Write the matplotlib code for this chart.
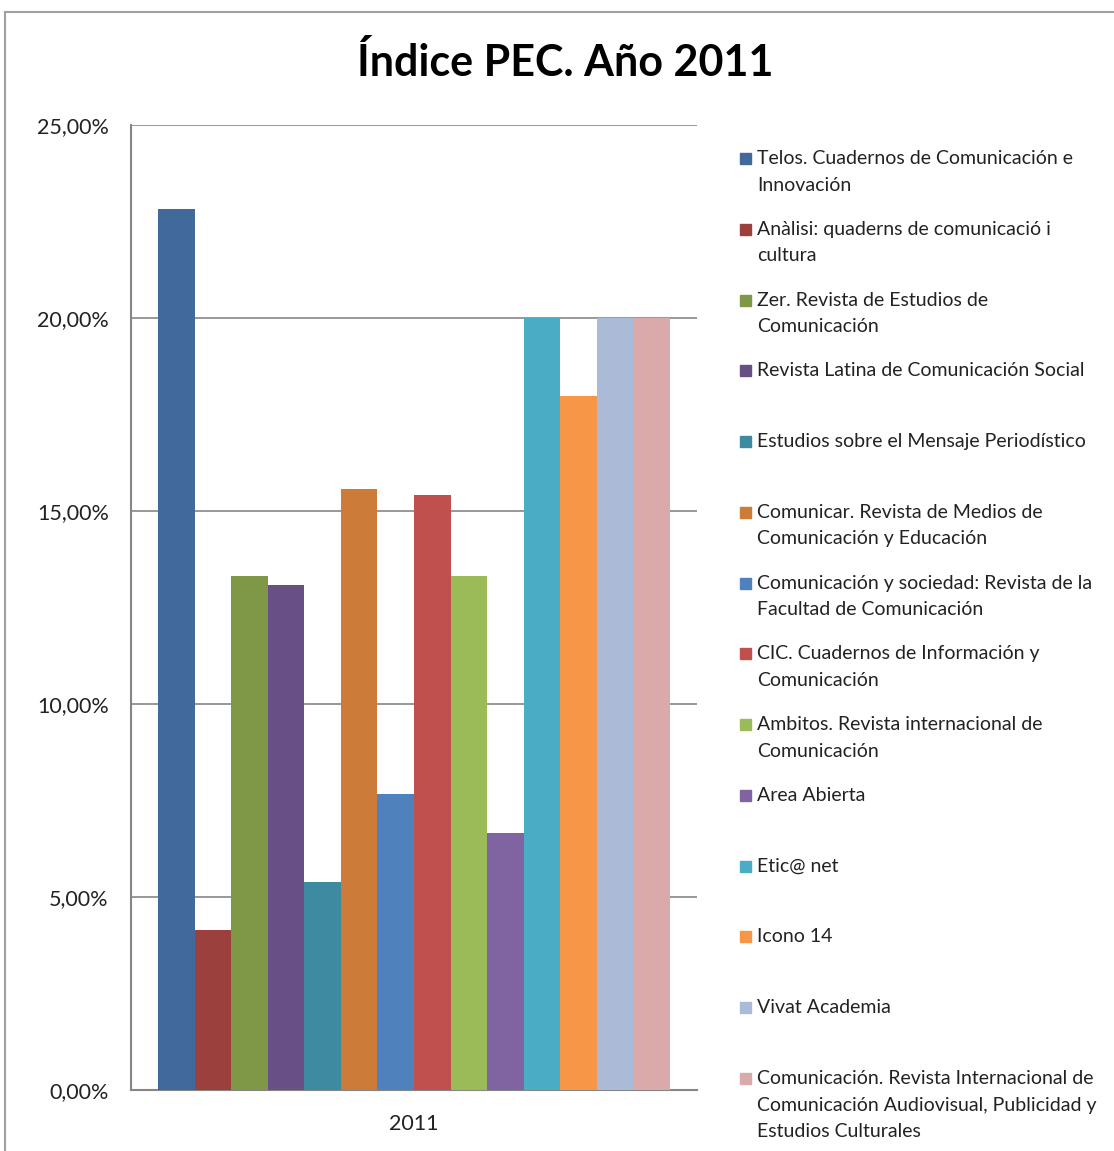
import matplotlib.pyplot as plt
from matplotlib.patches import Rectangle
from matplotlib.ticker import FuncFormatter

revistas = [
    "Telos. Cuadernos de Comunicación e\nInnovación",
    "Anàlisi: quaderns de comunicació i\ncultura",
    "Zer. Revista de Estudios de\nComunicación",
    "Revista Latina de Comunicación Social",
    "Estudios sobre el Mensaje Periodístico",
    "Comunicar. Revista de Medios de\nComunicación y Educación",
    "Comunicación y sociedad: Revista de la\nFacultad de Comunicación",
    "CIC. Cuadernos de Información y\nComunicación",
    "Ambitos. Revista internacional de\nComunicación",
    "Area Abierta",
    "Etic@ net",
    "Icono 14",
    "Vivat Academia",
    "Comunicación. Revista Internacional de\nComunicación Audiovisual, Publicidad y\nEstudios Culturales",
]
indice = [22.82, 4.15, 13.32, 13.08, 5.39, 15.57, 7.67, 15.41, 13.32, 6.66,
          20.0, 17.98, 20.0, 20.0]
colores = ["#41699A", "#9C403E", "#7E9847", "#684F84", "#3C8BA0", "#CC7B38",
           "#4F81BD", "#C0504D", "#9BBB59", "#8064A2", "#4BACC6", "#F79646",
           "#AABAD7", "#D9AAA9"]
yticks = [0, 5, 10, 15, 20, 25]

plt.rcParams['font.family'] = ['Lato', 'DejaVu Sans']

W, H = 1114, 1151
fig = plt.figure(figsize=(W / 100, H / 100), dpi=100)
fig.patch.set_facecolor('white')

# marco exterior del gráfico
fig.patches.append(Rectangle((5 / W, -0.05), 1.1, 1 - 12 / H + 0.05,
                             transform=fig.transFigure, fill=False,
                             edgecolor='#A0A0A0', lw=1.5))

ax = fig.add_axes([131 / W, 1 - 1090 / H, (697 - 131) / W, (1090 - 125) / H])

ax.bar(range(len(indice)), indice, width=1.0, color=colores, zorder=3)
ax.set_xlim(-1.238, len(indice) - 1 + 1.238)
ax.set_ylim(0, 25)
ax.set_yticks(yticks)
ax.yaxis.set_major_formatter(FuncFormatter(lambda v, p: f"{v:.2f}%".replace('.', ',')))
ax.grid(axis='y', color='#868686', lw=1.2, zorder=1)
ax.set_xticks([(len(indice) - 1) / 2])
ax.set_xticklabels(["2011"])
ax.tick_params(axis='both', length=0, labelsize=15.5, colors='#222222')
ax.tick_params(axis='y', pad=16)
ax.tick_params(axis='x', pad=17)
for s in ['top', 'right']:
    ax.spines[s].set_visible(False)
for s in ['left', 'bottom']:
    ax.spines[s].set_color('#868686')
    ax.spines[s].set_linewidth(1.5)

fig.text(565 / W, 1 - 63 / H, "Índice PEC. Año 2011", ha='center', va='center',
         fontsize=31, fontweight='bold', color='black')

# leyenda manual
y0, paso = 158, 70.77
for i, (nombre, c) in enumerate(zip(revistas, colores)):
    y = y0 + i * paso
    fig.patches.append(Rectangle((740 / W, 1 - (y + 6) / H), 11 / W, 11 / H,
                                 transform=fig.transFigure, color=c))
    fig.text(757 / W, 1 - (y - 8) / H, nombre, ha='left', va='top',
             fontsize=14, color='#222222', linespacing=1.68)

fig.savefig("out.png", dpi=100)
